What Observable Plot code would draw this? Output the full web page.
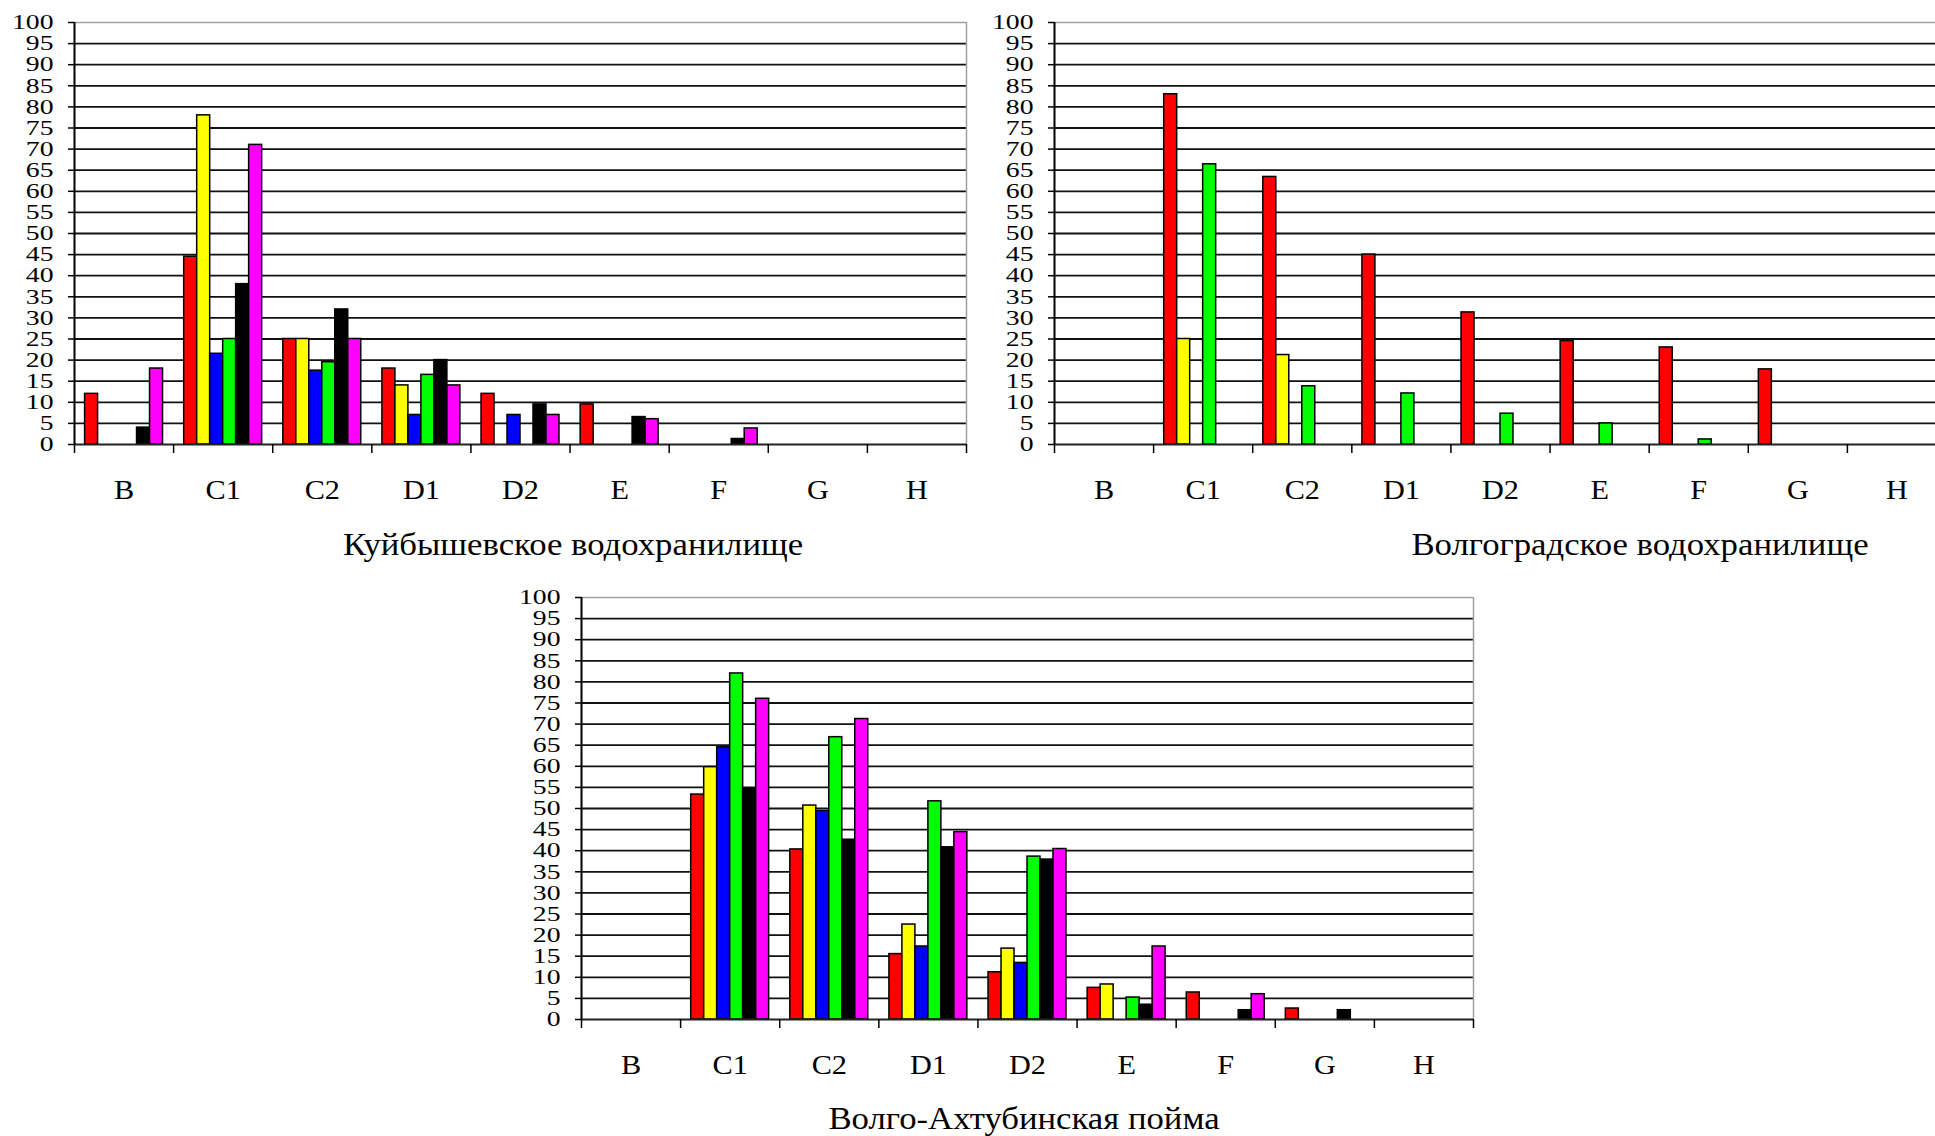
<!DOCTYPE html>
<html><head><meta charset="utf-8">
<script src="https://cdn.jsdelivr.net/npm/d3@7"></script>
<script src="https://cdn.jsdelivr.net/npm/@observablehq/plot@0.6"></script>
<style>
html,body{margin:0;padding:0;background:#fff;overflow:hidden;}
#root{position:relative;width:1935px;height:1136px;overflow:hidden;background:#fff;}
.panel{position:absolute;}
.title{position:absolute;width:800px;text-align:center;font-family:'Liberation Serif','Times New Roman',serif;font-size:32px;line-height:32px;color:#000;white-space:nowrap;transform:scaleX(1.085);transform-origin:50% 50%;}
</style></head><body><div id="root"></div>
<script>
// ---- data ----
const categories = ["B", "C1", "C2", "D1", "D2", "E", "F", "G", "H"];
const seriesNames = ["Ряд1", "Ряд2", "Ряд3", "Ряд4", "Ряд5", "Ряд6"];
const seriesColors = ["#ff0000", "#ffff00", "#0000ff", "#00ff00", "#000000", "#ff00ff"];
const yTicks = [0, 5, 10, 15, 20, 25, 30, 35, 40, 45, 50, 55, 60, 65, 70, 75, 80, 85, 90, 95, 100];
const titles = ["Куйбышевское водохранилище", "Волгоградское водохранилище", "Волго-Ахтубинская пойма"];

// Куйбышевское водохранилище
const kuibRed     = [12, 44.5, 25, 18, 12, 9.5, 0, 0, 0];
const kuibYellow  = [0, 78, 25, 14, 0, 0, 0, 0, 0];
const kuibBlue    = [0, 21.5, 17.5, 7, 7, 0, 0, 0, 0];
const kuibGreen   = [0, 25, 19.5, 16.5, 0, 0, 0, 0, 0];
const kuibBlack   = [4, 38, 32, 20, 9.5, 6.5, 1.3, 0, 0];
const kuibMagenta = [18, 71, 25, 14, 7, 6, 3.8, 0, 0];

// Волгоградское водохранилище
const volgRed     = [0, 83, 63.4, 45, 31.3, 24.5, 23, 17.8, 0];
const volgYellow  = [0, 25, 21.2, 0, 0, 0, 0, 0, 0];
const volgBlue    = [0, 0, 0, 0, 0, 0, 0, 0, 0];
const volgGreen   = [0, 66.4, 13.8, 12.1, 7.3, 5, 1.2, 0, 0];
const volgBlack   = [0, 0, 0, 0, 0, 0, 0, 0, 0];
const volgMagenta = [0, 0, 0, 0, 0, 0, 0, 0, 0];

// Волго-Ахтубинская пойма
const vaRed     = [0, 53.3, 40.3, 15.5, 11.2, 7.5, 6.4, 2.6, 0];
const vaYellow  = [0, 59.8, 50.7, 22.5, 16.8, 8.3, 0, 0, 0];
const vaBlue    = [0, 64.5, 49.4, 17.3, 13.4, 0, 0, 0, 0];
const vaGreen   = [0, 82, 66.9, 51.7, 38.6, 5.2, 0, 0, 0];
const vaBlack   = [0, 54.7, 42.6, 40.8, 37.9, 3.5, 2.2, 2.2, 0];
const vaMagenta = [0, 76, 71.2, 44.4, 40.4, 17.3, 6, 0, 0];

// ---- drawing ----
const root = document.getElementById("root");
const FONT = "'Liberation Serif', 'Times New Roman', serif";

function stretchText(chart, label, sx) {
  d3.select(chart).selectAll(`g[aria-label='${label}'] text`).each(function() {
    const t = this.getAttribute("transform") || "";
    this.setAttribute("transform", t + ` scale(${sx},1)`);
  });
}

function drawPanel(series, title, left, top, titleCenter, titleTop) {
  const rows = [];
  series.forEach((arr, si) => arr.forEach((v, ci) => {
    if (v > 0) rows.push({category: categories[ci], ci, series: seriesNames[si], value: v});
  }));
  const inner = d3.scaleBand(seriesNames, [0, 1]).paddingInner(0).paddingOuter(0.815);
  const centers = categories.map((c, i) => i + 0.5);
  const bounds = categories.map((c, i) => i).concat([categories.length]);
  const chart = Plot.plot({
    width: 976, height: 510,
    marginLeft: 74, marginRight: 10, marginTop: 22, marginBottom: 66,
    style: {fontFamily: FONT, fontSize: "28px", color: "#000", background: "transparent", overflow: "visible"},
    x: {type: "linear", domain: [0, categories.length], axis: null},
    y: {domain: [0, 100], axis: null},
    color: {domain: seriesNames, range: seriesColors},
    marks: [
      Plot.ruleY(yTicks.filter(t => t > 0 && t < 100), {stroke: "#111", strokeWidth: 1.8}),
      Plot.ruleY([100], {stroke: "#a0a0a0", strokeWidth: 1.5}),
      Plot.ruleX([categories.length], {stroke: "#a0a0a0", strokeWidth: 1.5}),
      Plot.rectY(rows, {
        x1: d => d.ci + inner(d.series),
        x2: d => d.ci + inner(d.series) + inner.bandwidth(),
        y: "value", fill: "series", stroke: "#000", strokeWidth: 1.5
      }),
      Plot.ruleY([0], {stroke: "#222", strokeWidth: 2}),
      Plot.ruleX([0], {stroke: "#000", strokeWidth: 2}),
      Plot.axisY({ticks: yTicks, tickSize: 6, tickPadding: 15, fontSize: 21, strokeWidth: 1.5, label: null}),
      Plot.axisX({ticks: centers, tickSize: 0, tickPadding: 35, fontSize: 28,
                  tickFormat: d => categories[Math.floor(d)], label: null}),
      Plot.axisX({ticks: bounds, tickSize: 9, tickFormat: () => "", strokeWidth: 1.5, label: null})
    ]
  });
  // horizontally stretch the tick labels like the original
  stretchText(chart, "y-axis tick label", 1.32);
  stretchText(chart, "x-axis tick label", 1.08);
  chart.classList.add("panel");
  chart.style.left = left + "px";
  chart.style.top = top + "px";
  root.appendChild(chart);

  const div = document.createElement("div");
  div.className = "title";
  div.textContent = title;
  div.style.left = (titleCenter - 400) + "px";
  div.style.top = titleTop + "px";
  root.appendChild(div);
}

drawPanel([kuibRed, kuibYellow, kuibBlue, kuibGreen, kuibBlack, kuibMagenta], titles[0], 0, 0, 573, 528);
drawPanel([volgRed, volgYellow, volgBlue, volgGreen, volgBlack, volgMagenta], titles[1], 980, 0, 1640, 528);
drawPanel([vaRed, vaYellow, vaBlue, vaGreen, vaBlack, vaMagenta], titles[2], 507, 575, 1024, 1102);
</script>
</body></html>
